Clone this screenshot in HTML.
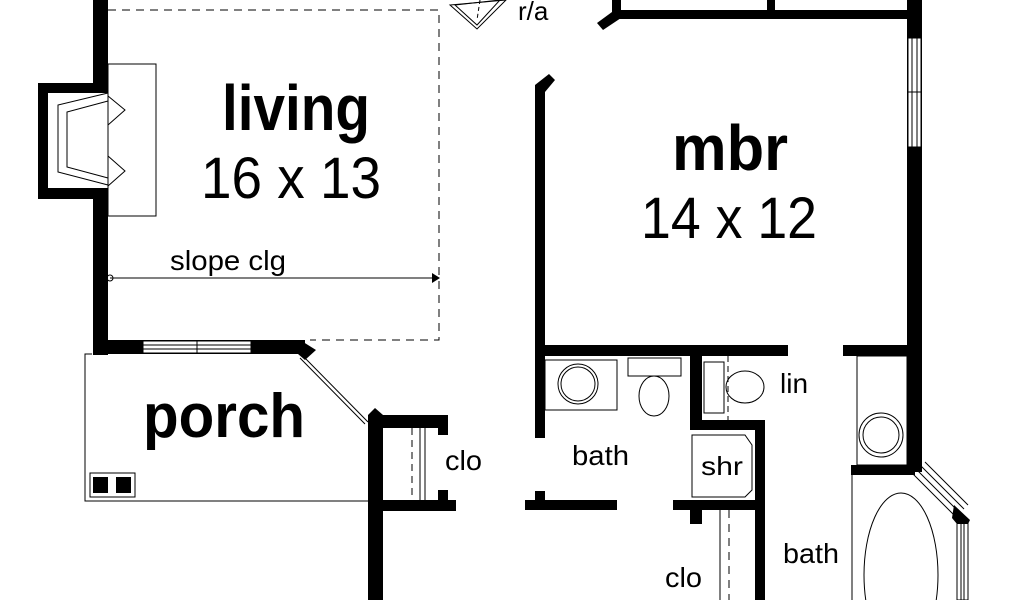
<!DOCTYPE html>
<html><head><meta charset="utf-8"><style>
html,body{margin:0;padding:0;background:#fff;width:1024px;height:600px;overflow:hidden}
svg{display:block}
text{font-family:"Liberation Sans Narrow","Liberation Sans",sans-serif;fill:#000}
</style></head><body>
<svg width="1024" height="600" viewBox="0 0 1024 600" xmlns="http://www.w3.org/2000/svg">
<g fill="#000">
<rect x="93" y="0" width="15" height="355"/>
<rect x="93" y="340" width="212" height="14"/>
<polygon points="300,340 316,350 305,360 298,354"/>
<rect x="38" y="83" width="62" height="116"/>
<rect x="368" y="415" width="15" height="185"/>
<polygon points="368,415 375,408 383,415"/>
<rect x="368" y="415" width="80" height="13"/>
<rect x="438" y="415" width="10" height="20"/>
<rect x="438" y="490" width="10" height="20"/>
<rect x="383" y="500" width="73" height="11"/>
<rect x="535" y="88" width="10" height="350"/>
<polygon points="535,85 549,74 555,80 545,92 545,95 535,95"/>
<rect x="612" y="0" width="9" height="19"/>
<rect x="612" y="10" width="310" height="9"/>
<rect x="767" y="0" width="8" height="19"/>
<rect x="907" y="0" width="15" height="472"/>
<polygon points="612,12 621,18 603,30 597,23"/>
<rect x="535" y="345" width="253" height="11"/>
<rect x="843" y="345" width="70" height="11"/>
<rect x="525" y="500" width="92" height="10"/>
<rect x="535" y="491" width="10" height="12"/>
<rect x="690" y="345" width="12" height="85"/>
<rect x="690" y="420" width="75" height="10"/>
<rect x="755" y="420" width="10" height="180"/>
<rect x="673" y="500" width="85" height="10"/>
<rect x="690" y="500" width="12" height="24"/>
<rect x="851" y="465" width="64" height="10"/>
</g>
<g fill="#fff" stroke="#000" stroke-width="1">
<rect x="48" y="93" width="60" height="95" stroke="none"/>
<rect x="143" y="341" width="108" height="12"/>
<rect x="908" y="38" width="13" height="109"/>
</g>
<g stroke="#000" stroke-width="1" fill="none">
<line x1="143" y1="345" x2="251" y2="345"/><line x1="143" y1="349" x2="251" y2="349"/><line x1="197" y1="341" x2="197" y2="353"/>
<line x1="912" y1="38" x2="912" y2="147"/><line x1="917" y1="38" x2="917" y2="147"/><line x1="908" y1="92" x2="921" y2="92"/>
<polyline points="108,10 439,10 439,340 310,340" stroke-dasharray="8,6"/>
<rect x="108" y="64" width="48" height="152"/>
<polyline points="108,93 58,105 58,172 108,185"/>
<polyline points="108,101 67,112 67,167 108,178"/>
<polyline points="108,96 125,110 108,125"/>
<polyline points="108,156 125,171 108,186"/>
<line x1="110" y1="278" x2="434" y2="278"/>
<circle cx="110" cy="278" r="3"/>
<polygon points="450,5 477,29 506,0"/><polygon points="455,5 477,25 500,0"/>
<line x1="480" y1="0" x2="477" y2="20" stroke-dasharray="4,3"/>
<polyline points="92,354 85,354 85,501 368,501"/>
<line x1="300" y1="358" x2="365" y2="424"/>
<line x1="303" y1="356" x2="368" y2="422"/>
<rect x="90" y="473" width="45" height="24"/>
<line x1="412" y1="428" x2="412" y2="500" stroke-dasharray="7,5"/>
<line x1="420" y1="428" x2="420" y2="500"/><line x1="425" y1="428" x2="425" y2="500"/>
<rect x="545" y="360" width="72" height="50"/>
<circle cx="578" cy="384" r="20"/><circle cx="578" cy="384" r="17"/>
<rect x="628" y="358" width="53" height="18"/>
<ellipse cx="654" cy="396" rx="15" ry="20"/>
<rect x="704" y="362" width="20" height="51"/>
<ellipse cx="745" cy="387" rx="19" ry="16"/>
<line x1="728" y1="356" x2="728" y2="420" stroke-dasharray="6,4"/>
<polygon points="692,435 745,435 752,445 752,490 745,497 692,497"/>
<line x1="720" y1="510" x2="720" y2="600"/>
<line x1="729" y1="510" x2="729" y2="600" stroke-dasharray="8,6"/>
<rect x="857" y="356" width="50" height="109"/>
<circle cx="881" cy="435" r="22"/><circle cx="881" cy="435" r="18"/>
<line x1="852" y1="475" x2="852" y2="600"/>
<ellipse cx="901" cy="575" rx="37" ry="82"/>
<line x1="913" y1="474" x2="956" y2="517"/>
<line x1="917" y1="470" x2="960" y2="513"/>
<line x1="921" y1="466" x2="964" y2="509"/>
<line x1="925" y1="462" x2="968" y2="505"/>
<rect x="957" y="522" width="11" height="78"/>
<line x1="961" y1="522" x2="961" y2="600"/><line x1="964" y1="522" x2="964" y2="600"/>
</g>
<polygon points="432,273 440,278 432,283" fill="#000"/>
<g fill="#000"><rect x="93" y="477" width="15" height="16"/><rect x="116" y="477" width="15" height="16"/>
<polygon points="954,505 970,520 968,524 957,524 952,518"/></g>
<text x="222" y="130" font-size="64" font-weight="bold" textLength="148" lengthAdjust="spacingAndGlyphs">living</text>
<text x="201" y="198" font-size="58" textLength="180" lengthAdjust="spacingAndGlyphs">16 x 13</text>
<text x="170" y="270" font-size="28" textLength="116" lengthAdjust="spacingAndGlyphs">slope clg</text>
<text x="518" y="20" font-size="26">r/a</text>
<text x="672" y="170" font-size="64" font-weight="bold" textLength="116" lengthAdjust="spacingAndGlyphs">mbr</text>
<text x="641" y="238" font-size="58" textLength="176" lengthAdjust="spacingAndGlyphs">14 x 12</text>
<text x="143" y="437" font-size="62" font-weight="bold" textLength="162" lengthAdjust="spacingAndGlyphs">porch</text>
<text x="445" y="470" font-size="28" textLength="37" lengthAdjust="spacingAndGlyphs">clo</text>
<text x="572" y="465" font-size="28" textLength="57" lengthAdjust="spacingAndGlyphs">bath</text>
<text x="701" y="475" font-size="26" textLength="42" lengthAdjust="spacingAndGlyphs">shr</text>
<text x="780" y="393" font-size="28">lin</text>
<text x="783" y="563" font-size="28" textLength="56" lengthAdjust="spacingAndGlyphs">bath</text>
<text x="665" y="587" font-size="28" textLength="37" lengthAdjust="spacingAndGlyphs">clo</text>
</svg>
</body></html>
